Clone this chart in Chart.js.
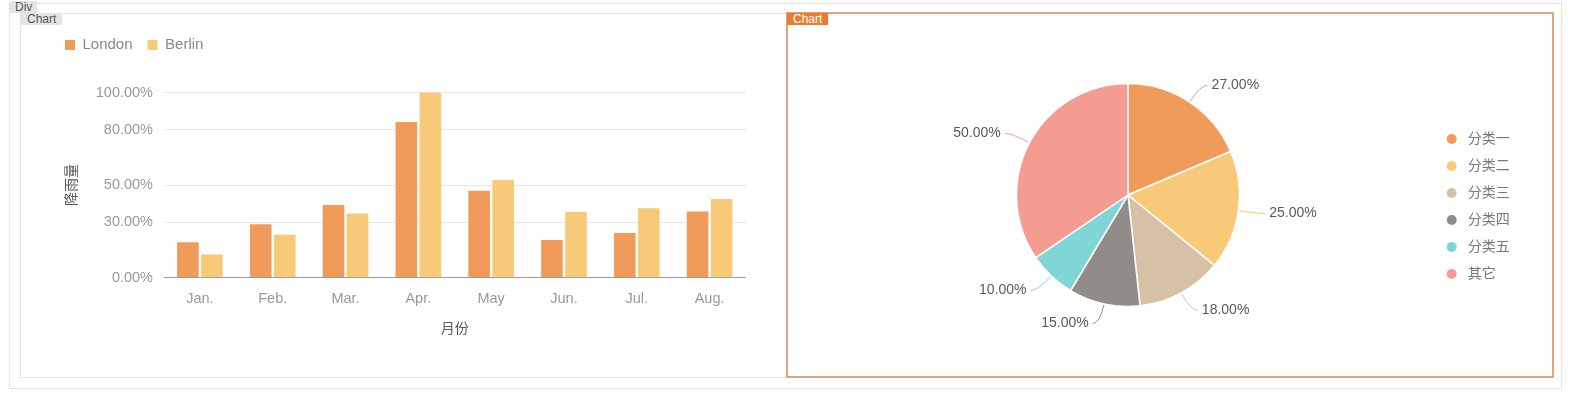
<!DOCTYPE html>
<html>
<head>
<meta charset="utf-8">
<script src="https://cdn.jsdelivr.net/npm/chart.js@4"></script>
<style>
body { margin: 0; background: #fff; width: 1574px; height: 398px; position: relative; overflow: hidden;
       font-family: "Liberation Sans", Arial, "Noto Sans CJK SC", sans-serif; }
.box { position: absolute; box-sizing: border-box; }
#outer { left: 9px; top: 3px; width: 1553px; height: 386px; border: 1px dotted #c8c8c8; }
#left { left: 20px; top: 13px; width: 767px; height: 365px; border: 1px dotted #c8c8c8; }
#right { left: 786px; top: 12px; width: 768px; height: 366px; border: 2px solid #dfa47c; }
.tag { position: absolute; font-size: 12px; line-height: 12px; padding: 0 6px; background: #e4e4e4; color: #555; }
#tagDiv { left: 10px; top: 1px; padding: 0 5px; }
#tagLeft { left: 21px; top: 13px; }
#tagRight { left: 787px; top: 13px; background: #ec7a2f; color: #fff; }
canvas { position: absolute; }
#barChart { left: 21px; top: 14px; }
#pieChart { left: 788px; top: 14px; }
</style>
</head>
<body>
<div class="box" id="outer"></div>
<div class="box" id="left"></div>
<div class="box" id="right"></div>
<div class="tag" id="tagDiv">Div</div>
<div class="tag" id="tagLeft">Chart</div>
<div class="tag" id="tagRight">Chart</div>
<canvas id="barChart" width="764" height="363"></canvas>
<canvas id="pieChart" width="764" height="362"></canvas>
<script>
// bar chart data (percent)
const months = ['Jan.', 'Feb.', 'Mar.', 'Apr.', 'May', 'Jun.', 'Jul.', 'Aug.'];
const london = [19.1, 28.9, 39.3, 84.1, 46.9, 20.4, 24.1, 35.7];
const berlin = [12.5, 23.2, 34.6, 100, 52.7, 35.5, 37.5, 42.5];
const yTicks = [0, 30, 50, 80, 100];

// pie chart data
const categories = ['分类一', '分类二', '分类三', '分类四', '分类五', '其它'];
const shares = [27, 25, 18, 15, 10, 50];

const FONT = '"Liberation Sans", Arial, "Noto Sans CJK SC", sans-serif';
const pieColors = ['#f09b5a', '#f7c978', '#d6c0a6', '#918c88', '#80d6d4', '#f49c92'];

Chart.defaults.font.family = FONT;
Chart.defaults.animation = false;

// push plot area down below the legend
const legendSpace = {
    id: 'legendSpace',
    beforeInit(chart) {
        const fit = chart.legend.fit;
        chart.legend.fit = function () {
            fit.call(this);
            this.height = 70;
        };
    }
};

new Chart(document.getElementById('barChart'), {
    type: 'bar',
    data: {
        labels: months,
        datasets: [
            { label: 'London', data: london, backgroundColor: '#f09b5a', categoryPercentage: 0.66, barPercentage: 0.9 },
            { label: 'Berlin', data: berlin, backgroundColor: '#f7c978', categoryPercentage: 0.66, barPercentage: 0.9 }
        ]
    },
    options: {
        responsive: false,
        layout: { padding: { top: 8.5, left: 29, right: 39, bottom: 0 } },
        plugins: {
            tooltip: { enabled: false },
            legend: {
                position: 'top',
                align: 'start',
                labels: { boxWidth: 10, boxHeight: 10, padding: 15, color: '#888', font: { size: 15 } }
            }
        },
        scales: {
            x: {
                grid: { display: false, drawTicks: false },
                border: { display: false },
                ticks: { padding: 13, color: '#999', font: { size: 14.5 } },
                title: { display: true, text: '月份', color: '#595959', font: { size: 14 }, padding: { top: 0, bottom: 39.6 } },
                afterFit(s) { s.height = 99.3; }
            },
            y: {
                min: 0,
                max: 100,
                afterBuildTicks(s) { s.ticks = yTicks.map(v => ({ value: v })); },
                afterFit(s) { s.width = 113.5; },
                ticks: { padding: 10.5, color: '#999', font: { size: 14.5 }, callback: v => v.toFixed(2) + '%' },
                grid: { drawTicks: false, color: c => c.tick && c.tick.value === 0 ? '#999' : '#e6e6e6' },
                border: { display: false },
                title: { display: true, text: '降雨量', color: '#595959', font: { size: 14 }, padding: { top: 13.6, bottom: 0 } }
            }
        }
    },
    plugins: [legendSpace]
});

// outside labels with leader lines
const pieLabels = {
    id: 'pieLabels',
    afterDatasetsDraw(chart) {
        const ctx = chart.ctx;
        const meta = chart.getDatasetMeta(0);
        ctx.save();
        ctx.font = '14px ' + FONT;
        ctx.textBaseline = 'middle';
        meta.data.forEach((arc, i) => {
            const p = arc.getProps(['x', 'y', 'startAngle', 'endAngle', 'outerRadius'], true);
            const a = (p.startAngle + p.endAngle) / 2;
            const cos = Math.cos(a), sin = Math.sin(a);
            const side = cos >= 0 ? 1 : -1;
            const x0 = p.x + cos * (p.outerRadius + 1), y0 = p.y + sin * (p.outerRadius + 1);
            const x1 = p.x + cos * (p.outerRadius + 20), y1 = p.y + sin * (p.outerRadius + 20);
            const x2 = x1 + side * 7;
            ctx.strokeStyle = pieColors[i];
            ctx.lineWidth = 1;
            ctx.beginPath();
            ctx.moveTo(x0, y0);
            ctx.quadraticCurveTo(x1, y1, x2, y1);
            ctx.stroke();
            ctx.fillStyle = '#595959';
            ctx.textAlign = side > 0 ? 'left' : 'right';
            ctx.fillText(shares[i].toFixed(2) + '%', x2 + side * 4, y1);
        });
        ctx.restore();
    }
};

// legend on the right, round markers
const pieLegend = {
    id: 'pieLegend',
    afterDraw(chart) {
        const ctx = chart.ctx;
        ctx.save();
        ctx.font = '14px ' + FONT;
        ctx.textBaseline = 'middle';
        ctx.textAlign = 'left';
        categories.forEach((name, i) => {
            const y = 125 + i * 27;
            ctx.fillStyle = pieColors[i];
            ctx.beginPath();
            ctx.arc(663.7, y, 5, 0, Math.PI * 2);
            ctx.fill();
            ctx.fillStyle = '#777';
            ctx.fillText(name, 679.7, y);
        });
        ctx.restore();
    }
};

new Chart(document.getElementById('pieChart'), {
    type: 'pie',
    data: {
        labels: categories,
        datasets: [{ data: shares, backgroundColor: pieColors, borderColor: '#fff', borderWidth: 1.5 }]
    },
    options: {
        responsive: false,
        layout: { padding: { top: 68.75, bottom: 68.75, left: 227.75, right: 311.75 } },
        plugins: { legend: { display: false }, tooltip: { enabled: false } }
    },
    plugins: [pieLabels, pieLegend]
});
</script>
</body>
</html>
